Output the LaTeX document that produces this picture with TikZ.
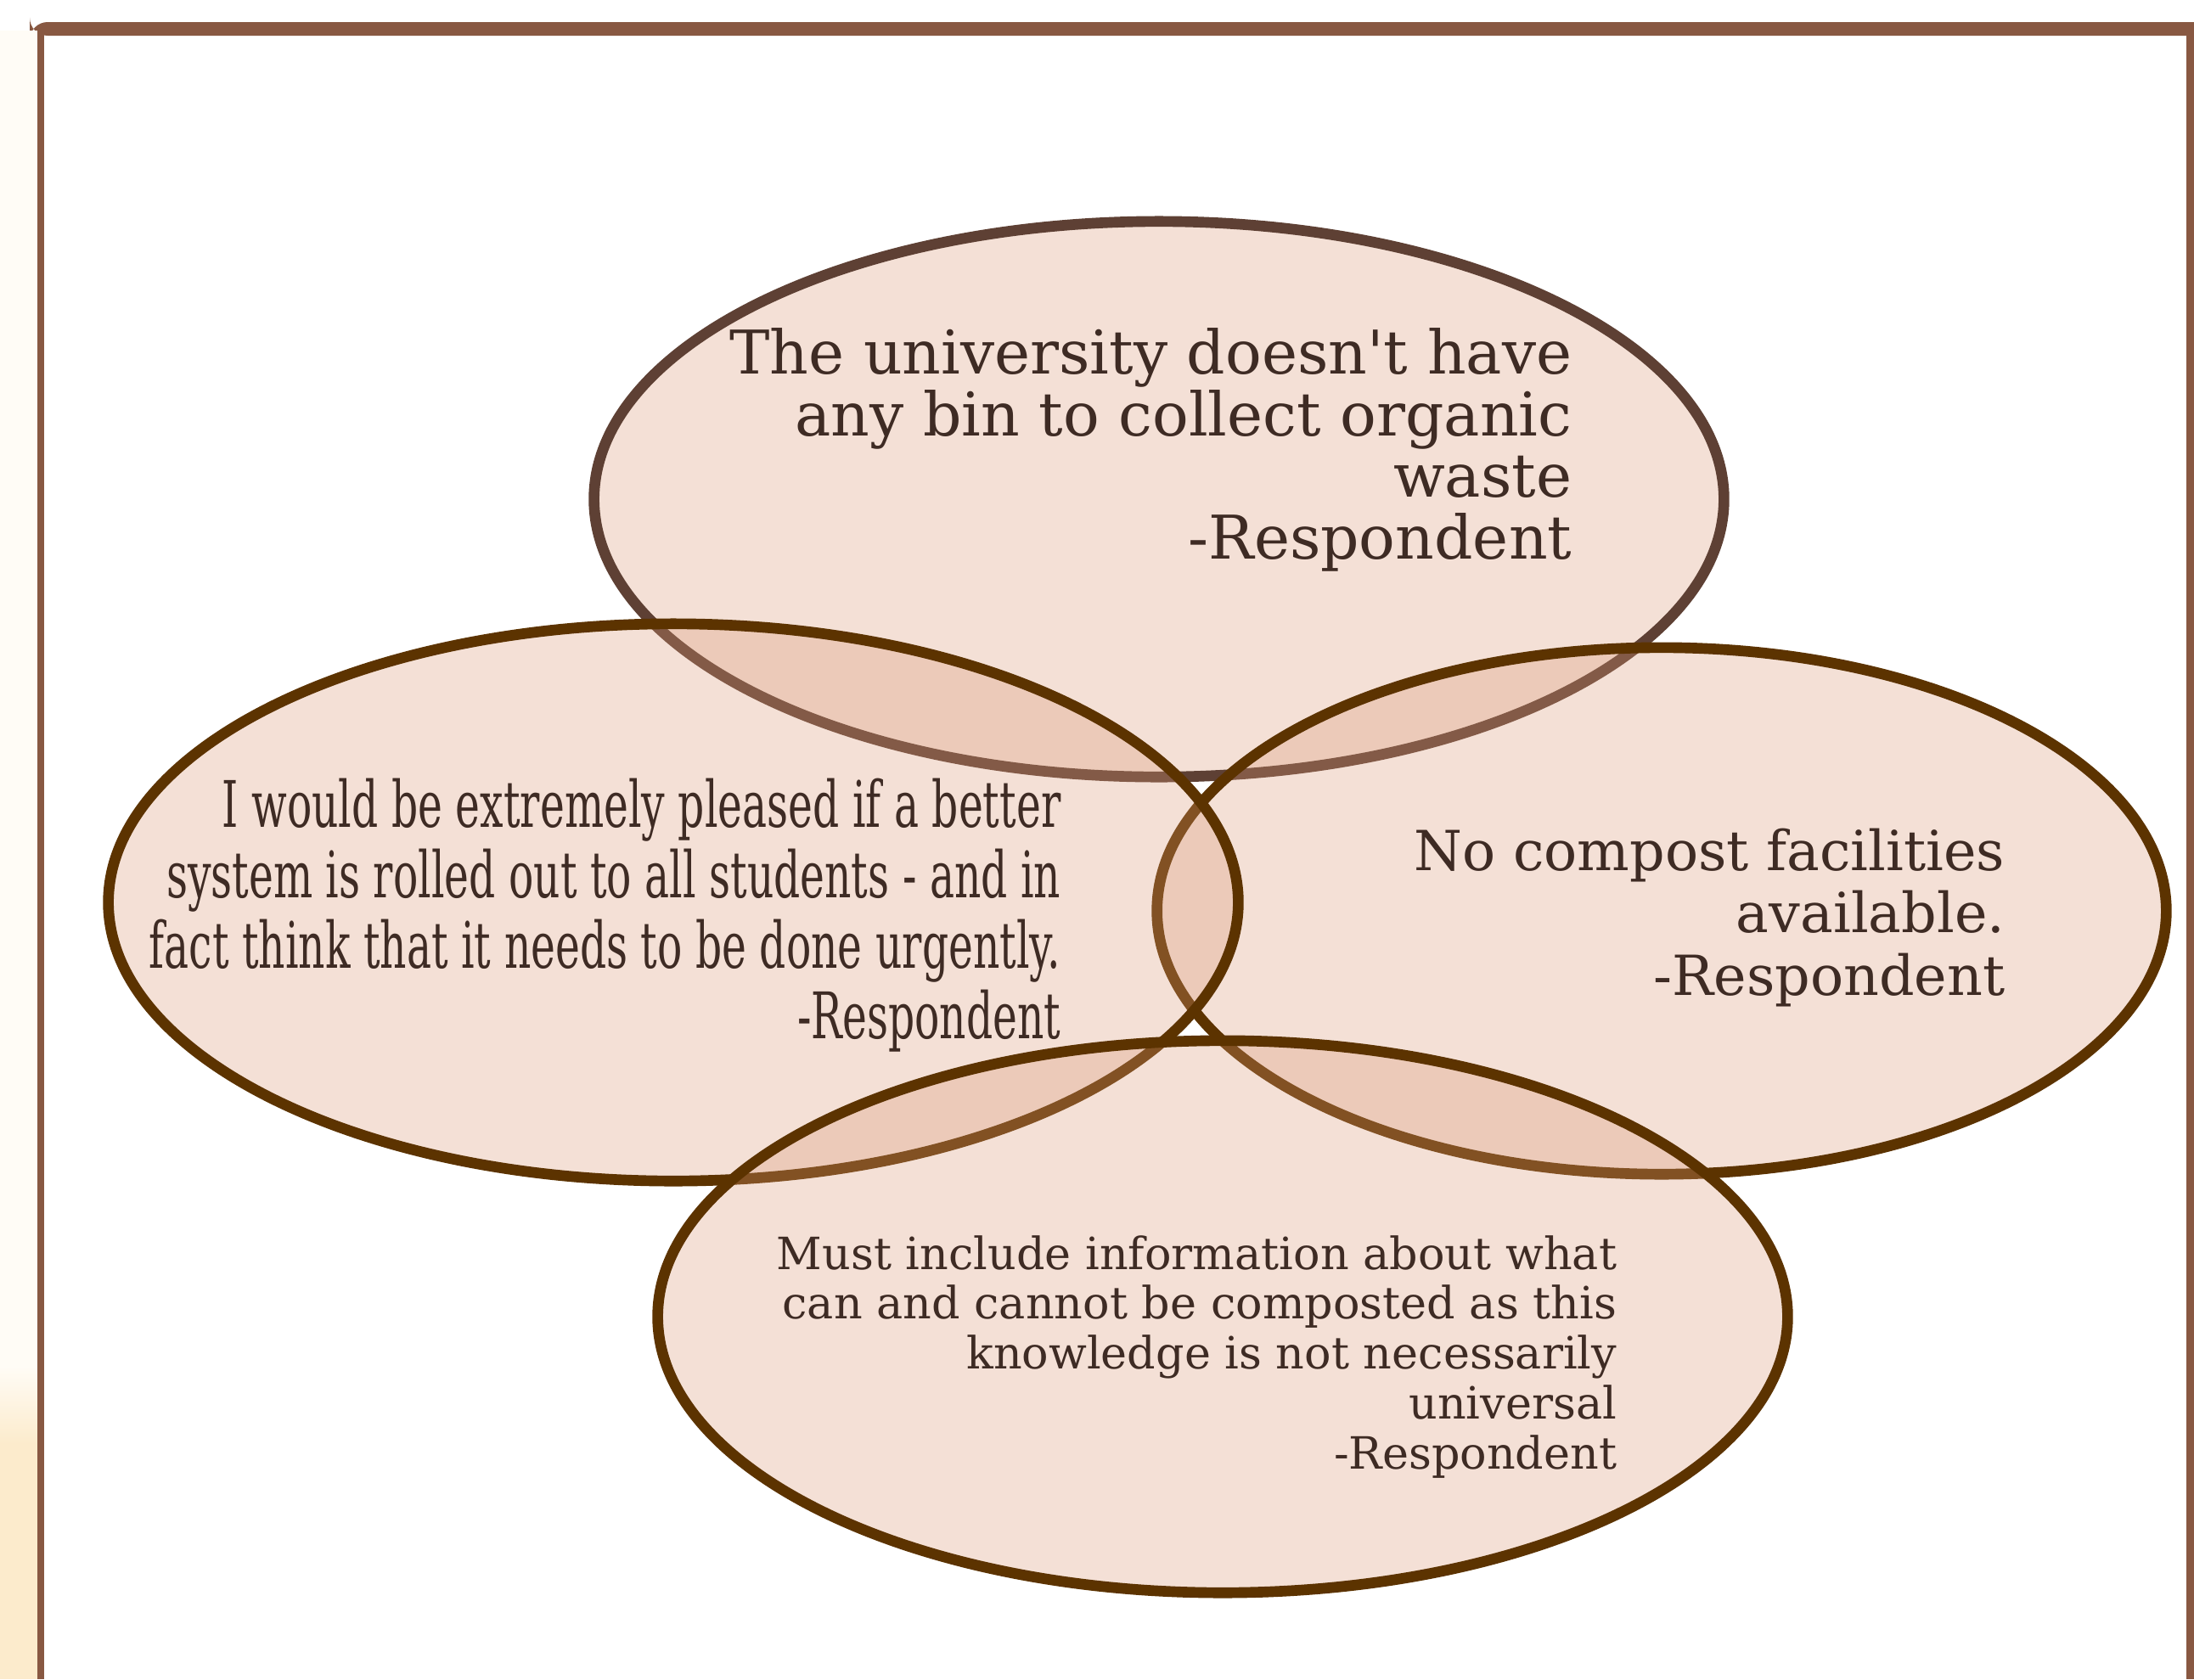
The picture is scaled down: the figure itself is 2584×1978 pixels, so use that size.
\documentclass[tikz,border=0pt]{standalone}
\usepackage{fontspec}
\setmainfont{DejaVu Serif}
\newfontfamily\narrowserif[FakeStretch=0.645]{DejaVu Serif}
\usetikzlibrary{shapes.geometric}

\definecolor{framebrown}{RGB}{136,88,66}
\definecolor{bubblefill}{RGB}{218,152,118}
\definecolor{bubbleline}{RGB}{92,51,0}
\definecolor{topline}{RGB}{94,64,52}
\definecolor{quotetext}{RGB}{62,43,36}
\definecolor{creamtop}{RGB}{255,252,246}
\definecolor{creambot}{RGB}{252,235,204}

\begin{document}
\begin{tikzpicture}[x=0.01cm,y=-0.01cm,
  bubble/.style={ellipse,draw=bubbleline,line width=3.6pt,fill=bubblefill,fill opacity=0.3,inner sep=0pt},
  quote/.style={text=quotetext,align=right,inner sep=0pt,anchor=base east}]

  \useasboundingbox (0,0) rectangle (2584,1978);

  % page edge
  \fill [framebrown,rounded corners=6] (35,26) rectangle (2620,42);
  \fill [creamtop] (0,36) rectangle (44,1610);
  \shade [top color=creamtop,bottom color=creambot] (0,1609) rectangle (44,1701);
  \fill [creambot] (0,1700) rectangle (44,1978);
  \fill [framebrown] (44,36) rectangle (52,1978);
  \fill [framebrown] (2575,36) rectangle (2584,1978);

  \node [bubble,draw=topline,minimum width=13.3cm,minimum height=6.54cm] (topbub) at (1365,588) {};
  \node [bubble,minimum width=11.88cm,minimum height=6.2cm] (rightbub) at (1957,1073) {};
  \node [bubble,minimum width=13.3cm,minimum height=6.56cm] (leftbub) at (793,1063) {};
  \node [bubble,minimum width=13.3cm,minimum height=6.5cm] (bottombub) at (1440,1551) {};

  % base anchor sits on the last line
  \node [quote,font=\fontsize{20.2}{20.6}\selectfont] (topquote) at (1852,658)
    {The university doesn\textquotesingle t have\\any bin to collect organic\\waste\\-Respondent};
  \node [quote,font=\narrowserif\fontsize{21.5}{23.6}\selectfont] (leftquote) at (1250,1223)
    {I would be extremely pleased if a better\\system is rolled out to all students - and in\\fact think that it needs to be done urgently.\\-Respondent};
  \node [quote,font=\fontsize{18.5}{20.9}\selectfont] (rightquote) at (2362,1172)
    {No compost facilities\\available.\\-Respondent};
  \node [quote,font=\fontsize{14.9}{16.7}\selectfont] (bottomquote) at (1905,1730)
    {Must include information about what\\can and cannot be composted as this\\knowledge is not necessarily\\universal\\-Respondent};

\end{tikzpicture}
\end{document}
